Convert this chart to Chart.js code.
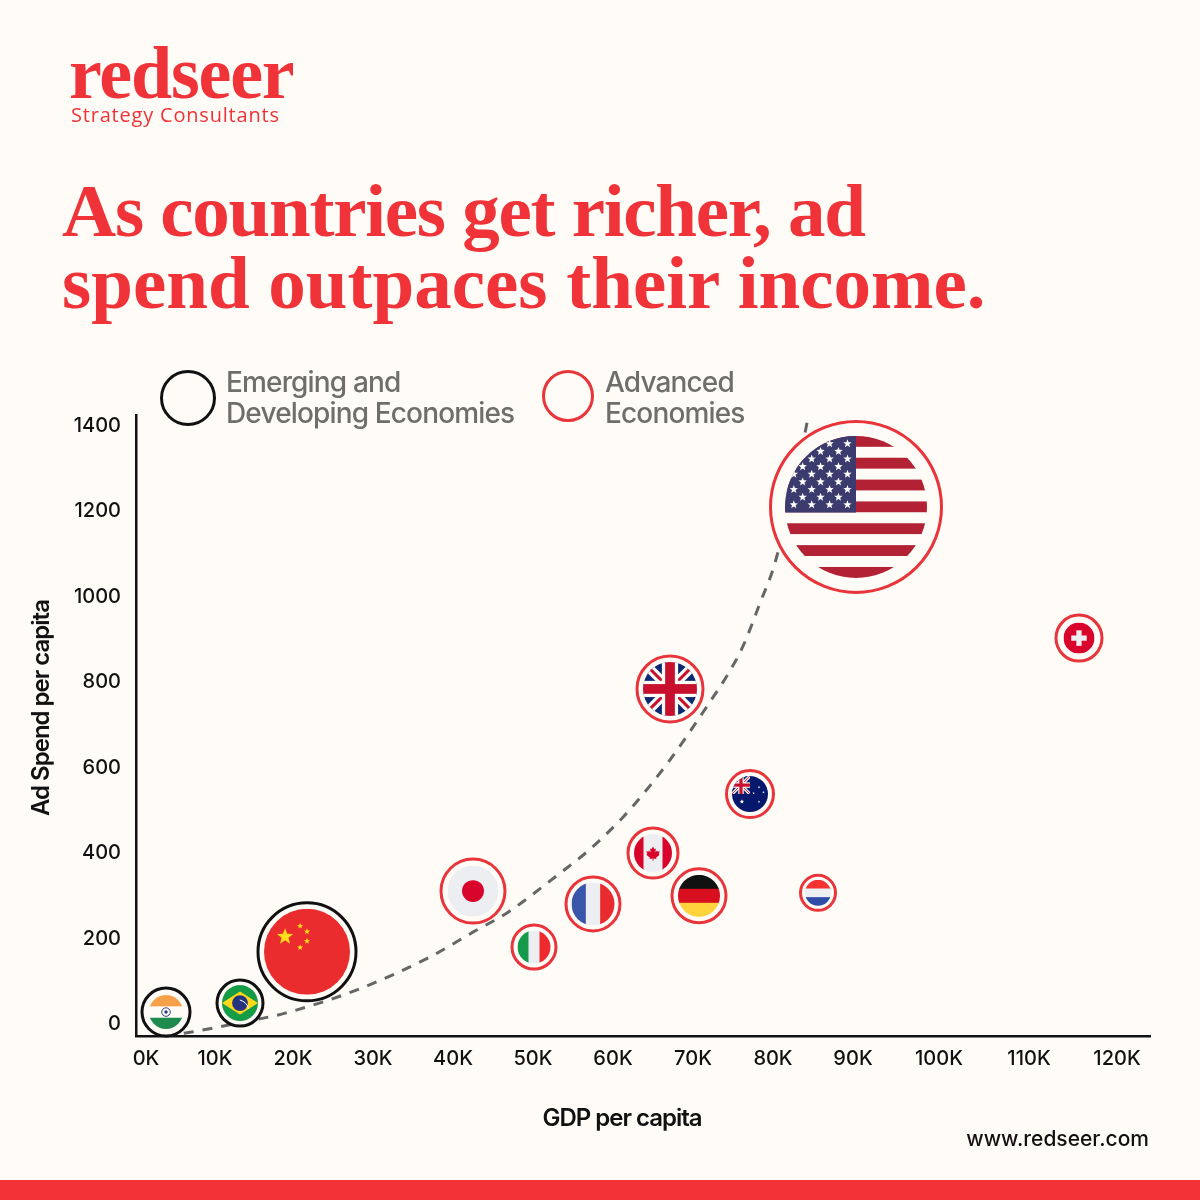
<!DOCTYPE html>
<html>
<head>
<meta charset="utf-8">
<script src="https://cdn.jsdelivr.net/npm/chart.js@4"></script>
<style>
  html, body { margin: 0; padding: 0; background: #FFFCF7; }
  #page { position: relative; width: 1200px; height: 1200px; overflow: hidden; background: #FFFCF7; }
  #chart { position: absolute; left: 0; top: 0; }
  .txt { position: absolute; white-space: nowrap; }
  .logo { left: 69px; top: 36px; font: 700 74px/74px "Liberation Serif", serif; color: #EF3338; letter-spacing: -1.2px; }
  .sub { left: 71px; top: 103px; font: 400 20px/24px "Open Sans", sans-serif; color: #EF3338; letter-spacing: .8px; }
  .title { left: 62px; font: 700 75px/75px "Liberation Serif", serif; color: #EF3338; }
  .leg { font: 500 28px/31px Inter, sans-serif; color: #6F6F6A; letter-spacing: -.85px; white-space: pre; }
  .ring { position: absolute; box-sizing: border-box; border-radius: 50%; border-style: solid; border-width: 3.5px; }
  .url { right: 51px; top: 1126px; font: 500 21px/26px Inter, sans-serif; color: #111; }
  .axis { font: 600 24px/30px Inter, sans-serif; color: #111; letter-spacing: -1px; }
  #bar { position: absolute; left: 0; top: 1180px; width: 1200px; height: 20px; background: #F23237; }
</style>
</head>
<body>
<div id="page">
  <canvas id="chart" width="1200" height="1200"></canvas>
  <div class="txt logo">redseer</div>
  <div class="txt sub">Strategy Consultants</div>
  <div class="txt title" style="top:173px;letter-spacing:-1.26px">As countries get richer, ad</div>
  <div class="txt title" style="top:245px">spend outpaces their income.</div>
  <div class="ring" style="left:160px;top:370px;width:56px;height:56px;border-color:#111"></div>
  <div class="txt leg" style="left:226px;top:367px">Emerging and
Developing Economies</div>
  <div class="ring" style="left:542px;top:370px;width:52px;height:52px;border-color:#E8343A"></div>
  <div class="txt leg" style="left:605px;top:367px">Advanced
Economies</div>
  <div class="txt axis" style="left:622px;top:1103px;transform:translateX(-50%)">GDP per capita</div>
  <div class="txt axis" style="left:41px;top:708px;transform:translate(-50%,-50%) rotate(-90deg)">Ad Spend per capita</div>
  <div class="txt url">www.redseer.com</div>
  <div id="bar"></div>
</div>
<script>
// values
var emergingNames = ['India', 'Brazil', 'China'];
var emergingGdp = [4125, 13375, 21750];
var emergingSpend = [28, 49, 169];
var emergingSize = [24, 23, 49];

var advancedNames = ['Japan', 'Italy', 'France', 'UK', 'Canada', 'Germany', 'Australia', 'Netherlands', 'USA', 'Switzerland'];
var advancedGdp = [42500, 50125, 57500, 67125, 65000, 70750, 77125, 85625, 90375, 118250];
var advancedSpend = [311, 180, 281, 784, 400, 300, 538, 307, 1210, 903];
var advancedSize = [32, 22, 27, 33, 25, 27, 23.5, 17.5, 85.5, 23];

var trendGdp = [4000, 7500, 13375, 19125, 28000, 37125, 42500, 46750, 53375, 56750, 61250, 64375, 67125, 69500, 71875, 74250, 76250, 78375, 80250, 84000, 84375];
var trendSpend = [-28, -18, 3, 26, 80, 157, 215, 260, 353, 403, 484, 552, 618, 681, 747, 815, 884, 985, 1079, 1383, 1420];

// the printed x labels are not evenly spaced, so the ticks sit where they were read
var xTickLabels = ['0K', '10K', '20K', '30K', '40K', '50K', '60K', '70K', '80K', '90K', '100K', '110K', '120K'];
var xTickValues = [1625, 10250, 20000, 30000, 40000, 50000, 60000, 70000, 80000, 90000, 100750, 112000, 123000];
var yTickValues = [0, 200, 400, 600, 800, 1000, 1200, 1400];

var PAPER = '#FFFCF7';
var RED = '#E8343A';
var WHITE = '#ECEEF1';

function star(c, x, y, r, color) {
    c.fillStyle = color;
    c.beginPath();
    for (var i = 0; i < 10; i++) {
        var a = -Math.PI / 2 + i * Math.PI / 5;
        var d = i % 2 ? r * 0.42 : r;
        c.lineTo(x + Math.cos(a) * d, y + Math.sin(a) * d);
    }
    c.closePath();
    c.fill();
}

function rows(c, r, colors) {
    var h = 2 * r / colors.length;
    colors.forEach(function(col, i) {
        c.fillStyle = col;
        c.fillRect(-r, -r + i * h, 2 * r, h + 0.5);
    });
}

function cols(c, r, colors) {
    var w = 2 * r / colors.length;
    colors.forEach(function(col, i) {
        c.fillStyle = col;
        c.fillRect(-r + i * w, -r, w + 0.5, 2 * r);
    });
}

function unionJack(c, r) {
    c.fillStyle = '#0B2A73';
    c.fillRect(-r, -r, 2 * r, 2 * r);
    c.lineCap = 'butt';
    c.strokeStyle = PAPER;
    c.lineWidth = r * 0.34;
    c.beginPath();
    c.moveTo(-r, -r); c.lineTo(r, r);
    c.moveTo(r, -r); c.lineTo(-r, r);
    c.stroke();
    c.strokeStyle = '#C8102E';
    c.lineWidth = r * 0.11;
    c.stroke();
    c.fillStyle = PAPER;
    c.fillRect(-r, -r * 0.3, 2 * r, r * 0.6);
    c.fillRect(-r * 0.3, -r, r * 0.6, 2 * r);
    c.fillStyle = '#C8102E';
    c.fillRect(-r, -r * 0.18, 2 * r, r * 0.36);
    c.fillRect(-r * 0.18, -r, r * 0.36, 2 * r);
}

var flags = {
    India: { gap: 8.5, draw: function(c, r) {
        rows(c, r, ['#F7A04A', PAPER, '#1F8A4D']);
        c.strokeStyle = '#2A3C85';
        c.lineWidth = 1;
        c.beginPath(); c.arc(0, 0, r * 0.25, 0, 7); c.stroke();
        c.fillStyle = '#2A3C85';
        c.beginPath(); c.arc(0, 0, r * 0.1, 0, 7); c.fill();
    } },
    Brazil: { gap: 6.5, draw: function(c, r) {
        c.fillStyle = '#169B47';
        c.fillRect(-r, -r, 2 * r, 2 * r);
        c.fillStyle = '#FFD91A';
        c.beginPath();
        c.moveTo(-r, 0); c.lineTo(0, -r * 0.64); c.lineTo(r, 0); c.lineTo(0, r * 0.64);
        c.closePath(); c.fill();
        c.fillStyle = '#26337F';
        c.beginPath(); c.arc(0, 0, r * 0.44, 0, 7); c.fill();
        c.strokeStyle = PAPER;
        c.lineWidth = 1;
        c.beginPath(); c.arc(-r * 0.2, r * 0.5, r * 0.7, -1.3, -0.25); c.stroke();
    } },
    China: { gap: 7.5, draw: function(c, r) {
        c.fillStyle = '#EA2C2E';
        c.fillRect(-r, -r, 2 * r, 2 * r);
        var y = '#FFDE1A';
        star(c, -r * 0.51, -r * 0.35, r * 0.2, y);
        star(c, -r * 0.16, -r * 0.6, r * 0.075, y);
        star(c, 0, -r * 0.47, r * 0.075, y);
        star(c, 0, -r * 0.25, r * 0.075, y);
        star(c, -r * 0.16, -r * 0.1, r * 0.075, y);
    } },
    Japan: { gap: 8, draw: function(c, r) {
        c.fillStyle = WHITE;
        c.fillRect(-r, -r, 2 * r, 2 * r);
        c.fillStyle = '#D9042B';
        c.beginPath(); c.arc(0, 0, r * 0.43, 0, 7); c.fill();
    } },
    Italy: { gap: 7, draw: function(c, r) { cols(c, r, ['#149A4A', WHITE, '#EE2A2E']); } },
    France: { gap: 7, draw: function(c, r) { cols(c, r, ['#3A56A8', WHITE, '#E92A2E']); } },
    UK: { gap: 7.5, draw: function(c, r) { unionJack(c, r); } },
    Canada: { gap: 7.5, draw: function(c, r) {
        c.fillStyle = WHITE;
        c.fillRect(-r, -r, 2 * r, 2 * r);
        c.fillStyle = '#D9042B';
        c.fillRect(-r, -r, r * 0.5, 2 * r);
        c.fillRect(r * 0.5, -r, r * 0.5, 2 * r);
        var leaf = [[0, -.34], [.08, -.2], [.16, -.24], [.12, -.04], [.22, -.14], [.25, -.07], [.36, -.09], [.3, .05], [.35, .09], [.16, .24], [.18, .31], [.02, .29], [.02, .42], [-.02, .42], [-.02, .29], [-.18, .31], [-.16, .24], [-.35, .09], [-.3, .05], [-.36, -.09], [-.25, -.07], [-.22, -.14], [-.12, -.04], [-.16, -.24], [-.08, -.2]];
        c.beginPath();
        leaf.forEach(function(p) { c.lineTo(p[0] * r, p[1] * r); });
        c.closePath(); c.fill();
    } },
    Germany: { gap: 7.5, draw: function(c, r) { rows(c, r, ['#111111', '#D80F1E', '#FFD33B']); } },
    Australia: { gap: 7, draw: function(c, r) {
        c.fillStyle = '#06186B';
        c.fillRect(-r, -r, 2 * r, 2 * r);
        c.save();
        c.beginPath(); c.rect(-r, -r, r, r); c.clip();
        c.translate(-r * 0.5, -r * 0.5);
        unionJack(c, r * 0.5);
        c.restore();
        star(c, -r * 0.45, r * 0.42, r * 0.13, PAPER);
        star(c, r * 0.5, -r * 0.38, r * 0.07, PAPER);
        star(c, r * 0.75, -r * 0.1, r * 0.07, PAPER);
        star(c, r * 0.2, -r * 0.05, r * 0.07, PAPER);
        star(c, r * 0.5, r * 0.42, r * 0.07, PAPER);
    } },
    Netherlands: { gap: 6, draw: function(c, r) { rows(c, r, ['#F53333', WHITE, '#2F4CA8']); } },
    USA: { gap: 16, draw: function(c, r) {
        for (var i = 0; i < 13; i++) {
            c.fillStyle = i % 2 ? PAPER : '#B22234';
            c.fillRect(-r, -r + i * 2 * r / 13, 2 * r, 2 * r / 13 + 0.3);
        }
        c.fillStyle = '#3C3B6E';
        c.fillRect(-r, -r, r, r * 1.08);
        for (var row = 0; row < 9; row++) {
            for (var x = row % 2 ? -0.247 : -0.12; x > -1; x -= 0.252) {
                star(c, x * r, (-0.89 + row * 0.1075) * r, r * 0.062, '#FFFFFF');
            }
        }
    } },
    Switzerland: { gap: 9, draw: function(c, r) {
        c.fillStyle = '#D9042B';
        c.fillRect(-r, -r, 2 * r, 2 * r);
        c.fillStyle = WHITE;
        c.fillRect(-r * 0.5, -r * 0.17, r, r * 0.34);
        c.fillRect(-r * 0.17, -r * 0.5, r * 0.34, r);
    } }
};

function bubbles(gdp, spend, size) {
    return gdp.map(function(x, i) { return { x: x, y: spend[i], r: size[i] }; });
}

// flags go inside each bubble once the library has placed it
var flagPlugin = {
    id: 'flags',
    afterDatasetsDraw: function(chart) {
        var c = chart.ctx;
        chart.data.datasets.forEach(function(ds, d) {
            if (!ds.names) return;
            chart.getDatasetMeta(d).data.forEach(function(el, i) {
                var f = flags[ds.names[i]];
                var r = ds.data[i].r + 1.5 - f.gap;
                c.save();
                c.translate(el.x, el.y);
                c.beginPath();
                c.arc(0, 0, r, 0, Math.PI * 2);
                c.clip();
                f.draw(c, r);
                c.restore();
            });
        });
    }
};

var font = { family: 'Inter', size: 20, weight: '500' };

new Chart(document.getElementById('chart'), {
    data: {
        datasets: [
            {
                type: 'line',
                label: 'Trend',
                data: trendGdp.map(function(x, i) { return { x: x, y: trendSpend[i] }; }),
                borderColor: '#666666',
                borderWidth: 3,
                borderDash: [10, 9],
                pointRadius: 0,
                cubicInterpolationMode: 'monotone',
                clip: false,
                order: 3
            },
            {
                type: 'bubble',
                label: 'Emerging and Developing Economies',
                names: emergingNames,
                data: bubbles(emergingGdp, emergingSpend, emergingSize),
                backgroundColor: PAPER,
                borderColor: '#111111',
                borderWidth: 3,
                clip: false,
                order: 1
            },
            {
                type: 'bubble',
                label: 'Advanced Economies',
                names: advancedNames,
                data: bubbles(advancedGdp, advancedSpend, advancedSize),
                backgroundColor: PAPER,
                borderColor: RED,
                borderWidth: 3,
                clip: false,
                order: 2
            }
        ]
    },
    options: {
        responsive: false,
        animation: false,
        events: [],
        // bubbles would otherwise reserve their radius around the plot
        layout: { autoPadding: false, padding: { left: 0, right: 50, top: 415, bottom: 0 } },
        plugins: { legend: { display: false }, tooltip: { enabled: false } },
        scales: {
            x: {
                type: 'linear',
                min: 375,
                max: 127125,
                grid: { display: false },
                border: { color: '#111111', width: 2.5 },
                afterFit: function(s) {
                    s.height = 164;
                    s.paddingLeft = 0;
                    s.paddingRight = 0;
                },
                afterBuildTicks: function(s) { s.ticks = xTickValues.map(function(v) { return { value: v }; }); },
                ticks: {
                    color: '#111111',
                    font: font,
                    padding: 3,
                    maxRotation: 0,
                    autoSkip: false,
                    callback: function(v, i) { return xTickLabels[i]; }
                }
            },
            y: {
                type: 'linear',
                min: -28,
                max: 1425,
                grid: { display: false },
                border: { color: '#111111', width: 2.5 },
                afterFit: function(s) {
                    s.width = 136;
                    s.paddingTop = 0;
                    s.paddingBottom = 0;
                },
                afterBuildTicks: function(s) { s.ticks = yTickValues.map(function(v) { return { value: v }; }); },
                ticks: {
                    color: '#111111',
                    font: font,
                    padding: 7,
                    autoSkip: false,
                    callback: function(v) { return String(v); }
                }
            }
        }
    },
    plugins: [flagPlugin]
});
</script>
</body>
</html>
